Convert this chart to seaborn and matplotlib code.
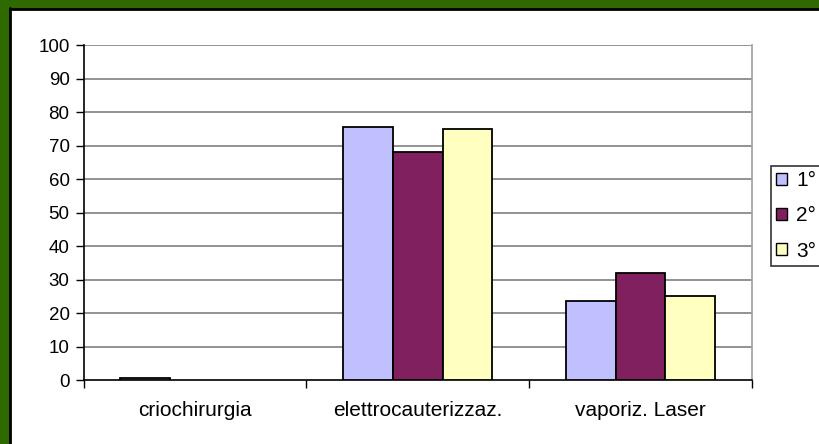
import matplotlib
matplotlib.use("Agg")
import matplotlib.pyplot as plt
from matplotlib.patches import Rectangle, Patch
from matplotlib.lines import Line2D
import seaborn as sns
import pandas as pd

categories = ["criochirurgia", "elettrocauterizzaz.", "vaporiz. Laser"]
series_names = ["1°", "2°", "3°"]
values_1 = [0.5, 75.5, 23.5]
values_2 = [0.0, 68.0, 32.0]
values_3 = [0.0, 75.0, 25.0]
colors = ["#C0C0FF", "#80205F", "#FFFFC0"]
y_ticks = [0, 10, 20, 30, 40, 50, 60, 70, 80, 90, 100]

rows = []
for name, vals in zip(series_names, [values_1, values_2, values_3]):
    for c, v in zip(categories, vals):
        rows.append({"cat": c, "serie": name, "val": v})
df = pd.DataFrame(rows)

sns.set_theme(style="white")
plt.rcParams["font.family"] = ["Liberation Sans", "DejaVu Sans"]
plt.rcParams["text.color"] = "black"
plt.rcParams["xtick.color"] = "black"
plt.rcParams["ytick.color"] = "black"
plt.rcParams["xtick.labelcolor"] = "black"
plt.rcParams["ytick.labelcolor"] = "black"

W, H = 819, 444
fig = plt.figure(figsize=(W / 100, H / 100), dpi=100, facecolor="#2E6A00")

# white panel with black inner edge on top/left
fig.patches.append(Rectangle((11 / W, 0), 1, 1 - 9.5 / H, transform=fig.transFigure,
                             facecolor="white", edgecolor="none", zorder=-10))
fig.lines.append(Line2D([10 / W, 10 / W], [0, 1 - 8.5 / H], transform=fig.transFigure,
                        color="black", lw=2, zorder=-9))
fig.lines.append(Line2D([10 / W, 1], [1 - 9 / H, 1 - 9 / H], transform=fig.transFigure,
                        color="black", lw=2, zorder=-9))

ax = fig.add_axes([83.5 / W, 1 - 380 / H, (752 - 83.5) / W, (380 - 45) / H])
ax.set_facecolor("none")

sns.barplot(data=df, x="cat", y="val", hue="serie", palette=colors, width=0.67,
            saturation=1, edgecolor="black", linewidth=1.3, ax=ax, zorder=3, legend=False)

for cont in ax.containers:
    for p in cont:
        if p.get_height() == 0:
            p.set_visible(False)

ax.set_ylim(0, 100)
ax.set_xlim(-0.5, 2.5)
ax.set_yticks(y_ticks)
ax.set_yticklabels([str(t) for t in y_ticks], fontsize=13.5)
ax.set_xticks(range(len(categories)))
ax.set_xticklabels(categories, fontsize=15)
ax.set_xticks([-0.5, 0.5, 1.5, 2.5], minor=True)
ax.tick_params(axis="x", which="major", length=0, pad=15)
ax.tick_params(axis="x", which="minor", length=6, width=1, color="black", direction="out", bottom=True)
ax.tick_params(axis="y", which="major", length=6, width=1, color="black", direction="out", left=True, pad=4)
ax.set_xlabel("")
ax.set_ylabel("")

for t in y_ticks[1:]:
    ax.axhline(t, color="#808080", lw=1.2, zorder=1)

for s in ["left", "bottom"]:
    ax.spines[s].set_color("black")
    ax.spines[s].set_linewidth(1.2)
ax.spines["right"].set_color("#A0A0A0")
ax.spines["right"].set_linewidth(1.2)
ax.spines["top"].set_visible(False)

handles = [Patch(facecolor=c, edgecolor="black", linewidth=1.0) for c in colors]
leg = fig.legend(handles, series_names, loc="upper left", bbox_to_anchor=(771 / W, 1 - 166 / H),
                 bbox_transform=fig.transFigure, frameon=True, fancybox=False,
                 edgecolor="black", fontsize=15, handlelength=0.5, handleheight=0.5,
                 handletextpad=0.45, labelspacing=0.78, borderpad=0.25, borderaxespad=0)
leg.get_frame().set_linewidth(1.2)

fig.savefig("out.png", dpi=100, facecolor=fig.get_facecolor())
